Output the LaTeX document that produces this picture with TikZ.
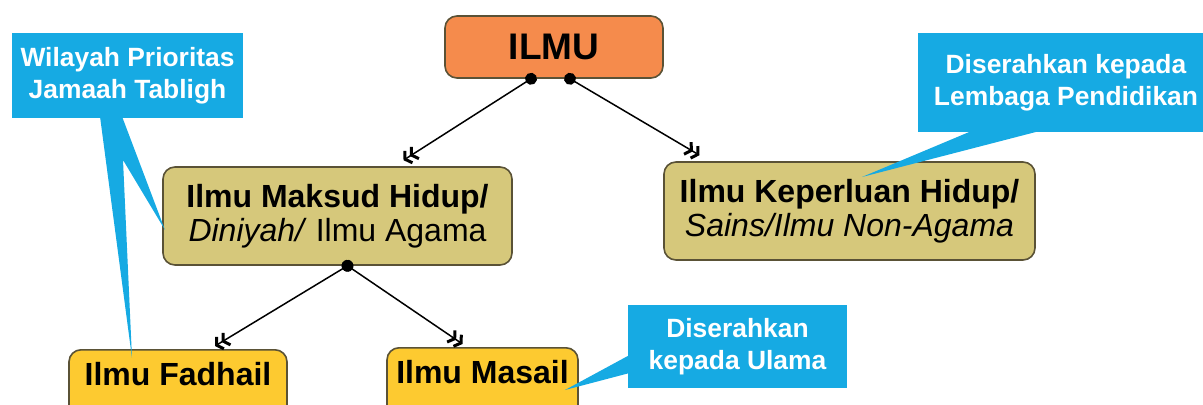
\documentclass[tikz,border=0pt]{standalone}
\usepackage{fontspec}
\setmainfont{Liberation Sans}
\usetikzlibrary{arrows.meta}
\definecolor{ilmuor}{HTML}{F58B4C}
\definecolor{agamakh}{HTML}{D6C87B}
\definecolor{cabangyl}{HTML}{FDCA30}
\definecolor{infobl}{HTML}{16AAE3}
\definecolor{tepi}{HTML}{5A5236}
\newcommand{\bsz}      {\fontsize{16pt}{17.25pt}\selectfont}
\newcommand{\csz}      {\fontsize{13.2pt}{16pt}\selectfont\bfseries}
\newcommand{\gbr}      {Straight Barb[length=2.2pt,width=7pt,line width=1.5pt]}

\tikzset{
  kotak/.style={draw=tepi,line width=0.8pt,rounded corners=6pt,inner sep=0pt,
    align=center,font=\bsz},
  cabang/.style={kotak,fill=cabangyl,anchor=north,minimum width=#1,
    inner ysep=4pt,text height=14pt,text depth=24pt,font=\bsz\bfseries},
  info/.style={fill=infobl,text=white,inner sep=0pt,align=center,font=\csz},
  panah/.style={line width=0.75pt,{Circle[length=6pt,width=6pt]}-{\gbr\gbr},
    shorten <=-3pt}
}

\begin{document}
\begin{tikzpicture}[x=0.5pt,y=-0.5pt]
   \useasboundingbox (0,0) rectangle (1203,405);
   \clip (0,0) rectangle (1203,405);
   % kotak utama
   \node[kotak,fill=ilmuor,minimum width=109pt,minimum height=31pt,
     font=\fontsize{18.5pt}{20pt}\selectfont\bfseries] (ilmu) at (554,47) {ILMU};
   \node[kotak,fill=agamakh,minimum width=174.5pt,minimum height=49pt] (maksud) at (337.5,216)
     {\textbf{Ilmu Maksud Hidup/}\\\textit{Diniyah/} Ilmu Agama};
   \node[kotak,fill=agamakh,minimum width=185.5pt,minimum height=49pt] (perlu) at (849.5,211)
     {\textbf{Ilmu Keperluan Hidup/}\\\textit{Sains/Ilmu Non-Agama}};
   \node[cabang=109pt] (fadhail) at (178,349) {Ilmu Fadhail};
   \node[cabang=95.5pt] (masail) at (482.5,347) {Ilmu Masail};
   % panah
   \draw[panah] ([xshift=-11.5pt]ilmu.south) -- ([xshift=33pt,yshift=3pt]maksud.north);
   \draw[panah] ([xshift=8pt]ilmu.south) -- ([xshift=-75pt,yshift=3pt]perlu.north);
   \draw[panah] ([xshift=5pt]maksud.south) -- ([xshift=18.5pt,yshift=1.5pt]fadhail.north);
   \draw[panah] ([xshift=5pt]maksud.south) -- ([xshift=-10pt,yshift=1.5pt]masail.north);
   % keterangan
   \node[info,minimum width=115.5pt,minimum height=42.5pt] (wilayah) at (127.5,75.5)
     {Wilayah Prioritas\\Jamaah Tabligh};
   \node[info,minimum width=148pt,minimum height=49.5pt] (lembaga) at (1066,82.5)
     {Diserahkan kepada\\Lembaga Pendidikan};
   \node[info,minimum width=109.5pt,minimum height=41.5pt] (ulama) at (737.5,346.5)
     {Diserahkan\\kepada Ulama};
   \coordinate (ujungF) at (132,358);
   \coordinate (ujungM) at (165,230);
   \coordinate (ujungP) at (862,177);
   \coordinate (ujungS) at (565,390);
   \fill[infobl] ([xshift=-13.75pt,yshift=1pt]wilayah.south) -- (ujungF) -- (123,160)
     -- (ujungM) -- ([xshift=-2.75pt,yshift=1pt]wilayah.south) -- cycle;
   \fill[infobl] ([xshift=-46.5pt,yshift=1pt]lembaga.south) -- (ujungP)
     -- ([xshift=-12pt,yshift=1pt]lembaga.south) -- cycle;
   \fill[infobl] ([xshift=1pt,yshift=-4.25pt]ulama.west) -- (ujungS)
     -- ([xshift=1pt,yshift=-13.25pt]ulama.west) -- cycle;
\end{tikzpicture}
\end{document}
